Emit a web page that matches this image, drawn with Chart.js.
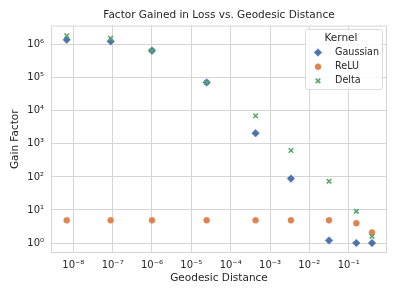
<!DOCTYPE html>
<html>
<head>
<meta charset="utf-8">
<script src="https://cdn.jsdelivr.net/npm/chart.js@4"></script>
<style>
    body { margin: 0; background: #ffffff; }
    #wrap { width: 399px; height: 299px; }
</style>
</head>
<body>
<div id="wrap"><canvas id="gainChart" width="399" height="299"></canvas></div>
<script>
// Geodesic distances (shared by all three kernels)
const distances = [6.8e-9, 8.9e-8, 1.0e-6, 2.45e-5, 4.3e-4, 3.4e-3, 0.0316, 0.156, 0.39];

// Gain factor per kernel
const gaussianGain = [1.4e6, 1.26e6, 6.6e5, 7.2e4, 2.1e3, 89, 1.2, 1.0, 1.0];
const reluGain = [4.85, 4.85, 4.85, 4.85, 4.85, 4.85, 4.85, 4.0, 2.1];
const deltaGain = [1.86e6, 1.55e6, 6.6e5, 7.2e4, 7.1e3, 630, 74, 9.1, 1.6];

// Axis ticks
const xTickValues = [1e-8, 1e-7, 1e-6, 1e-5, 1e-4, 1e-3, 1e-2, 1e-1];
const xTickLabels = ['10⁻⁸', '10⁻⁷', '10⁻⁶', '10⁻⁵', '10⁻⁴', '10⁻³', '10⁻²', '10⁻¹'];
const yTickValues = [1, 1e1, 1e2, 1e3, 1e4, 1e5, 1e6];
const yTickLabels = ['10⁰', '10¹', '10²', '10³', '10⁴', '10⁵', '10⁶'];

const FONT = 'DejaVu Sans';
const TEXT = '#262626';
const GRID = '#d5d5d5';

function toPoints(ys) {
    return distances.map((d, i) => ({ x: d, y: ys[i] }));
}

function tickLabel(values, labels) {
    return function(value) {
        const idx = values.findIndex(v => Math.abs(Math.log10(v) - Math.log10(value)) < 1e-6);
        return idx >= 0 ? labels[idx] : '';
    };
}

// Draw all four spines of the axes box
const frameBox = {
    id: 'frameBox',
    afterDraw(chart) {
        const a = chart.chartArea;
        const ctx = chart.ctx;
        ctx.save();
        ctx.strokeStyle = GRID;
        ctx.lineWidth = 1;
        ctx.strokeRect(a.left + 0.5, a.top + 0.5, a.right - a.left - 1, a.bottom - a.top - 1);
        ctx.restore();
    }
};

// Legend box in the upper right of the plot, with a title
const kernelLegend = {
    id: 'kernelLegend',
    afterDraw(chart) {
        const ctx = chart.ctx;
        const x0 = 305, y0 = 29, w = 77, h = 60;
        ctx.save();
        ctx.fillStyle = 'rgba(255,255,255,0.85)';
        ctx.strokeStyle = '#dcdcdc';
        ctx.lineWidth = 1;
        ctx.beginPath();
        ctx.roundRect(x0 + 0.5, y0 + 0.5, w, h, 2);
        ctx.fill();
        ctx.stroke();

        ctx.fillStyle = TEXT;
        ctx.textBaseline = 'middle';
        ctx.textAlign = 'center';
        ctx.font = '10.5px "' + FONT + '"';
        ctx.fillText('Kernel', 341, 38);

        chart.data.datasets.forEach((ds, i) => {
            const y = 52.5 + i * 14.2;
            ctx.fillStyle = ds.backgroundColor;
            ctx.strokeStyle = ds.borderColor;
            ctx.lineWidth = ds.borderWidth;
            Chart.helpers.drawPoint(ctx, {
                pointStyle: ds.pointStyle,
                radius: ds.pointRadius,
                borderWidth: ds.borderWidth,
                rotation: 0
            }, 318, y);
            ctx.fillStyle = TEXT;
            ctx.textBaseline = 'middle';
            ctx.textAlign = 'left';
            ctx.font = '9.6px "' + FONT + '"';
            ctx.fillText(ds.label, 335, y);
        });
        ctx.restore();
    }
};

new Chart(document.getElementById('gainChart'), {
    type: 'scatter',
    data: {
        datasets: [
            {
                label: 'Gaussian',
                data: toPoints(gaussianGain),
                pointStyle: 'rectRot',
                pointRadius: 3.8,
                backgroundColor: '#4c72b0',
                borderColor: '#4c72b0',
                borderWidth: 0.5,
                order: 2
            },
            {
                label: 'ReLU',
                data: toPoints(reluGain),
                pointStyle: 'circle',
                pointRadius: 3,
                backgroundColor: '#dd8452',
                borderColor: '#dd8452',
                borderWidth: 0.5,
                order: 1
            },
            {
                label: 'Delta',
                data: toPoints(deltaGain),
                pointStyle: 'crossRot',
                pointRadius: 3.2,
                backgroundColor: '#55a868',
                borderColor: '#55a868',
                borderWidth: 1.6,
                order: 0
            }
        ]
    },
    options: {
        responsive: false,
        devicePixelRatio: 1,
        animation: false,
        layout: { padding: { left: 0, right: 12, top: 0, bottom: 0 } },
        plugins: {
            legend: { display: false },
            tooltip: { enabled: false },
            title: {
                display: true,
                text: 'Factor Gained in Loss vs. Geodesic Distance',
                color: TEXT,
                fullSize: false,
                font: { family: FONT, size: 10.5, weight: 'normal' },
                padding: { top: 9, bottom: 4 }
            }
        },
        scales: {
            x: {
                type: 'logarithmic',
                min: 2.71e-9,
                max: 0.94,
                afterBuildTicks: scale => { scale.ticks = xTickValues.map(v => ({ value: v })); },
                afterFit: scale => { scale.height = 46; },
                border: { display: false },
                grid: { color: GRID, lineWidth: 1, drawTicks: false },
                ticks: {
                    color: TEXT,
                    padding: 6,
                    maxRotation: 0,
                    autoSkip: false,
                    font: { family: FONT, size: 10 },
                    callback: tickLabel(xTickValues, xTickLabels)
                },
                title: {
                    display: true,
                    text: 'Geodesic Distance',
                    color: TEXT,
                    font: { family: FONT, size: 10.5 },
                    padding: { top: 0, bottom: 14 }
                }
            },
            y: {
                type: 'logarithmic',
                min: 0.5,
                max: 3.77e6,
                afterBuildTicks: scale => { scale.ticks = yTickValues.map(v => ({ value: v })); },
                afterFit: scale => { scale.width = 51; },
                border: { display: false },
                grid: { color: GRID, lineWidth: 1, drawTicks: false },
                ticks: {
                    color: TEXT,
                    padding: 7,
                    autoSkip: false,
                    font: { family: FONT, size: 10 },
                    callback: tickLabel(yTickValues, yTickLabels)
                },
                title: {
                    display: true,
                    text: 'Gain Factor',
                    color: TEXT,
                    font: { family: FONT, size: 10.5 },
                    padding: { top: 9, bottom: 0 }
                }
            }
        }
    },
    plugins: [frameBox, kernelLegend]
});
</script>
</body>
</html>
